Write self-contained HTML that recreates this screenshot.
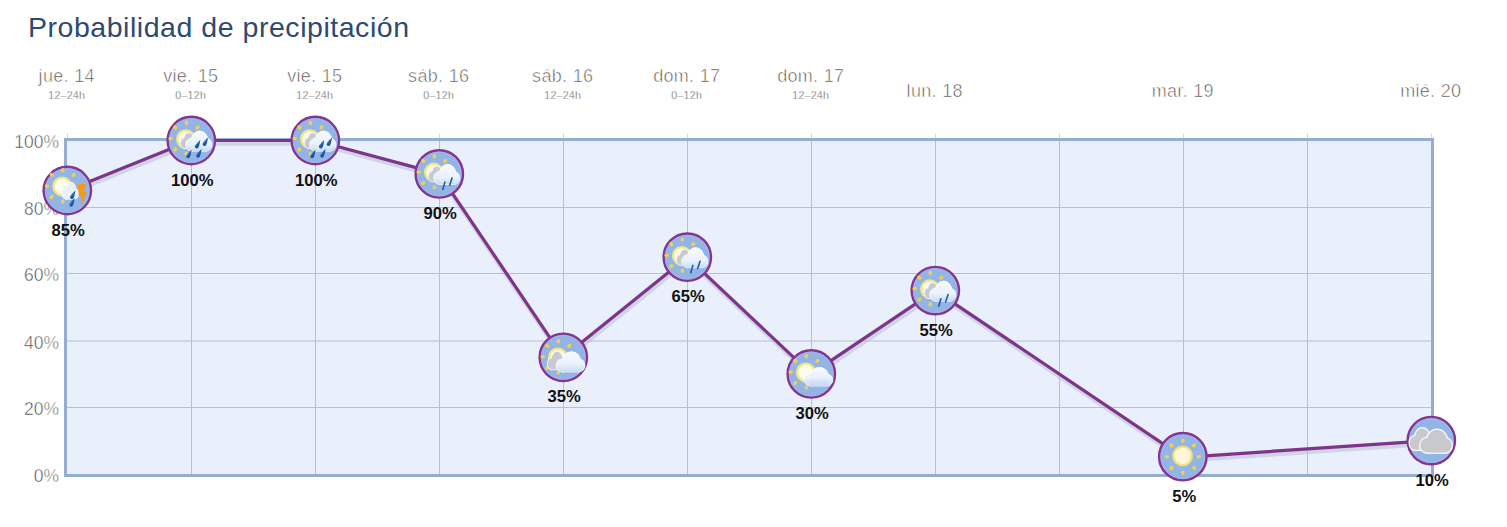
<!DOCTYPE html>
<html><head><meta charset="utf-8"><style>
html,body{margin:0;padding:0;background:#fff;width:1507px;height:527px;overflow:hidden}
svg{position:absolute;left:0;top:0;display:block}
text{font-family:"Liberation Sans",sans-serif}
</style></head><body>
<svg width="1507" height="527" viewBox="0 0 1507 527">
<defs>
<radialGradient id="sunG"><stop offset="0" stop-color="#fffef4"/><stop offset="0.55" stop-color="#fff8d2"/><stop offset="0.8" stop-color="#f8ec9a"/><stop offset="1" stop-color="#f2dc6a" stop-opacity="0.2"/></radialGradient>
<linearGradient id="wcl" gradientUnits="userSpaceOnUse" x1="0" y1="-9" x2="0" y2="12"><stop offset="0" stop-color="#f7fafe"/><stop offset="0.6" stop-color="#e9f1fb"/><stop offset="1" stop-color="#c4d7f0"/></linearGradient>
<linearGradient id="wcl2" gradientUnits="userSpaceOnUse" x1="0" y1="-5" x2="0" y2="15"><stop offset="0" stop-color="#f7fafe"/><stop offset="0.6" stop-color="#e9f1fb"/><stop offset="1" stop-color="#c8daf0"/></linearGradient>
<linearGradient id="wcl3" gradientUnits="userSpaceOnUse" x1="0" y1="-6" x2="0" y2="12"><stop offset="0" stop-color="#f4f8fe" stop-opacity="0.95"/><stop offset="0.55" stop-color="#e8f0fb" stop-opacity="0.9"/><stop offset="1" stop-color="#bcd2f0" stop-opacity="0.8"/></linearGradient>
<filter id="soft" x="-30%" y="-30%" width="160%" height="160%"><feGaussianBlur stdDeviation="0.7"/></filter>
<filter id="glow" x="-50%" y="-50%" width="200%" height="200%"><feGaussianBlur stdDeviation="1.2"/></filter>
</defs>

<text x="28" y="36.6" font-size="28.5" fill="#2d4a73" textLength="381" lengthAdjust="spacing">Probabilidad de precipitación</text>
<rect x="65.5" y="139.5" width="1367" height="336" fill="#e9effb"/>
<line x1="67.5" y1="133" x2="67.5" y2="139" stroke="#dcdde2" stroke-width="1"/>
<line x1="1431.5" y1="133" x2="1431.5" y2="139" stroke="#dcdde2" stroke-width="1"/>
<line x1="191.5" y1="139" x2="191.5" y2="476" stroke="#b8bfcd" stroke-width="1"/>
<line x1="191.5" y1="133" x2="191.5" y2="139" stroke="#dcdde2" stroke-width="1"/>
<line x1="315.5" y1="139" x2="315.5" y2="476" stroke="#b8bfcd" stroke-width="1"/>
<line x1="315.5" y1="133" x2="315.5" y2="139" stroke="#dcdde2" stroke-width="1"/>
<line x1="439.5" y1="139" x2="439.5" y2="476" stroke="#b8bfcd" stroke-width="1"/>
<line x1="439.5" y1="133" x2="439.5" y2="139" stroke="#dcdde2" stroke-width="1"/>
<line x1="563.5" y1="139" x2="563.5" y2="476" stroke="#b8bfcd" stroke-width="1"/>
<line x1="563.5" y1="133" x2="563.5" y2="139" stroke="#dcdde2" stroke-width="1"/>
<line x1="687.5" y1="139" x2="687.5" y2="476" stroke="#b8bfcd" stroke-width="1"/>
<line x1="687.5" y1="133" x2="687.5" y2="139" stroke="#dcdde2" stroke-width="1"/>
<line x1="811.5" y1="139" x2="811.5" y2="476" stroke="#b8bfcd" stroke-width="1"/>
<line x1="811.5" y1="133" x2="811.5" y2="139" stroke="#dcdde2" stroke-width="1"/>
<line x1="935.5" y1="139" x2="935.5" y2="476" stroke="#b8bfcd" stroke-width="1"/>
<line x1="935.5" y1="133" x2="935.5" y2="139" stroke="#dcdde2" stroke-width="1"/>
<line x1="1059.5" y1="139" x2="1059.5" y2="476" stroke="#b8bfcd" stroke-width="1"/>
<line x1="1059.5" y1="133" x2="1059.5" y2="139" stroke="#dcdde2" stroke-width="1"/>
<line x1="1183.5" y1="139" x2="1183.5" y2="476" stroke="#b8bfcd" stroke-width="1"/>
<line x1="1183.5" y1="133" x2="1183.5" y2="139" stroke="#dcdde2" stroke-width="1"/>
<line x1="1307.5" y1="139" x2="1307.5" y2="476" stroke="#b8bfcd" stroke-width="1"/>
<line x1="1307.5" y1="133" x2="1307.5" y2="139" stroke="#dcdde2" stroke-width="1"/>
<line x1="65" y1="207.5" x2="1433" y2="207.5" stroke="#b8bfcd" stroke-width="1"/>
<line x1="65" y1="273.5" x2="1433" y2="273.5" stroke="#b8bfcd" stroke-width="1"/>
<line x1="65" y1="341.0" x2="1433" y2="341.0" stroke="#b8bfcd" stroke-width="1"/>
<line x1="65" y1="407.5" x2="1433" y2="407.5" stroke="#b8bfcd" stroke-width="1"/>
<rect x="65.5" y="139.5" width="1367" height="336" fill="none" stroke="#94aed0" stroke-width="3"/>
<text x="59" y="482.0" font-size="17.5" fill="#444" stroke="#fff" stroke-width="0.5" text-anchor="end">0%</text>
<text x="59" y="415.0" font-size="17.5" fill="#444" stroke="#fff" stroke-width="0.5" text-anchor="end">20%</text>
<text x="59" y="348.5" font-size="17.5" fill="#444" stroke="#fff" stroke-width="0.5" text-anchor="end">40%</text>
<text x="59" y="281.0" font-size="17.5" fill="#444" stroke="#fff" stroke-width="0.5" text-anchor="end">60%</text>
<text x="59" y="215.0" font-size="17.5" fill="#444" stroke="#fff" stroke-width="0.5" text-anchor="end">80%</text>
<text x="59" y="148.0" font-size="17.5" fill="#444" stroke="#fff" stroke-width="0.5" text-anchor="end">100%</text>
<text x="66.7" y="81.6" font-size="18" fill="#4a4a4a" stroke="#fff" stroke-width="0.6" letter-spacing="0.3" text-anchor="middle">jue. 14</text>
<text x="66.7" y="98.8" font-size="10.6" fill="#505050" stroke="#fff" stroke-width="0.3" letter-spacing="0.25" text-anchor="middle">12–24h</text>
<text x="190.7" y="81.6" font-size="18" fill="#4a4a4a" stroke="#fff" stroke-width="0.6" letter-spacing="0.3" text-anchor="middle">vie. 15</text>
<text x="190.7" y="98.8" font-size="10.6" fill="#505050" stroke="#fff" stroke-width="0.3" letter-spacing="0.25" text-anchor="middle">0–12h</text>
<text x="314.7" y="81.6" font-size="18" fill="#4a4a4a" stroke="#fff" stroke-width="0.6" letter-spacing="0.3" text-anchor="middle">vie. 15</text>
<text x="314.7" y="98.8" font-size="10.6" fill="#505050" stroke="#fff" stroke-width="0.3" letter-spacing="0.25" text-anchor="middle">12–24h</text>
<text x="438.7" y="81.6" font-size="18" fill="#4a4a4a" stroke="#fff" stroke-width="0.6" letter-spacing="0.3" text-anchor="middle">sáb. 16</text>
<text x="438.7" y="98.8" font-size="10.6" fill="#505050" stroke="#fff" stroke-width="0.3" letter-spacing="0.25" text-anchor="middle">0–12h</text>
<text x="562.7" y="81.6" font-size="18" fill="#4a4a4a" stroke="#fff" stroke-width="0.6" letter-spacing="0.3" text-anchor="middle">sáb. 16</text>
<text x="562.7" y="98.8" font-size="10.6" fill="#505050" stroke="#fff" stroke-width="0.3" letter-spacing="0.25" text-anchor="middle">12–24h</text>
<text x="686.7" y="81.6" font-size="18" fill="#4a4a4a" stroke="#fff" stroke-width="0.6" letter-spacing="0.3" text-anchor="middle">dom. 17</text>
<text x="686.7" y="98.8" font-size="10.6" fill="#505050" stroke="#fff" stroke-width="0.3" letter-spacing="0.25" text-anchor="middle">0–12h</text>
<text x="810.7" y="81.6" font-size="18" fill="#4a4a4a" stroke="#fff" stroke-width="0.6" letter-spacing="0.3" text-anchor="middle">dom. 17</text>
<text x="810.7" y="98.8" font-size="10.6" fill="#505050" stroke="#fff" stroke-width="0.3" letter-spacing="0.25" text-anchor="middle">12–24h</text>
<text x="934.7" y="96.7" font-size="18" fill="#4a4a4a" stroke="#fff" stroke-width="0.6" letter-spacing="0.3" text-anchor="middle">lun. 18</text>
<text x="1182.7" y="96.7" font-size="18" fill="#4a4a4a" stroke="#fff" stroke-width="0.6" letter-spacing="0.3" text-anchor="middle">mar. 19</text>
<text x="1430.7" y="96.7" font-size="18" fill="#4a4a4a" stroke="#fff" stroke-width="0.6" letter-spacing="0.3" text-anchor="middle">mié. 20</text>
<path d="M67.2,190.5 L191.2,140.5 L315.2,140.5 L439.2,173.9 L563.2,357.3 L687.2,257.2 L811.2,373.9 L935.2,290.6 L1183.2,457.3 L1431.2,440.6" fill="none" stroke="#b4b4c8" stroke-width="4.5" opacity="0.45" transform="translate(1,3)"/>
<path d="M67.2,190.5 L191.2,140.5 L315.2,140.5 L439.2,173.9 L563.2,357.3 L687.2,257.2 L811.2,373.9 L935.2,290.6 L1183.2,457.3 L1431.2,440.6" fill="none" stroke="#7e3489" stroke-width="3.2" stroke-linejoin="round"/>
<g transform="translate(67.3,190.5)"><circle r="23.7" fill="#93b5e6" stroke="#84368f" stroke-width="2.4"/><circle r="21.8" fill="none" stroke="#aeb0f0" stroke-width="1.2" opacity="0.6"/><ellipse cx="-4.60" cy="-20.20" rx="2.3" ry="1.75" transform="rotate(-90 -4.60 -20.20)" fill="#f0d052"/><ellipse cx="6.43" cy="-15.63" rx="2.3" ry="1.75" transform="rotate(-45 6.43 -15.63)" fill="#f0d052"/><ellipse cx="-15.63" cy="-15.63" rx="2.3" ry="1.75" transform="rotate(-135 -15.63 -15.63)" fill="#f0d052"/><ellipse cx="-20.20" cy="-4.60" rx="2.3" ry="1.75" transform="rotate(180 -20.20 -4.60)" fill="#f0d052"/><ellipse cx="-15.63" cy="6.43" rx="2.3" ry="1.75" transform="rotate(135 -15.63 6.43)" fill="#f0d052"/><ellipse cx="-4.60" cy="11.00" rx="2.3" ry="1.75" transform="rotate(90 -4.60 11.00)" fill="#f0d052"/><g filter="url(#soft)"><circle cx="-5.1" cy="-4.1" r="8.8" fill="#fffbea" stroke="#f4e684" stroke-width="2.4"/></g><ellipse cx="-1.50" cy="3.25" rx="3.50" ry="5.25" fill="#ffffff" stroke="#ffffff" stroke-width="1.2"/><ellipse cx="3.50" cy="-0.50" rx="5.00" ry="7.50" fill="#ffffff" stroke="#ffffff" stroke-width="1.2"/><ellipse cx="7.50" cy="3.25" rx="3.50" ry="5.25" fill="#ffffff" stroke="#ffffff" stroke-width="1.2"/><rect x="-1.50" y="1.00" width="9.00" height="7.50" fill="#ffffff" stroke="#ffffff" stroke-width="1.2"/><ellipse cx="-1.50" cy="3.25" rx="3.50" ry="5.25" fill="#e6f2fb"/><ellipse cx="3.50" cy="-0.50" rx="5.00" ry="7.50" fill="#e6f2fb"/><ellipse cx="7.50" cy="3.25" rx="3.50" ry="5.25" fill="#e6f2fb"/><rect x="-1.50" y="1.00" width="9.00" height="7.50" fill="#e6f2fb"/><g transform="translate(4.6,6.6) rotate(28) scale(1.0)"><path d="M0,-7.5 C0.8,-4.5 1.9,-2 1.9,0 A1.9,1.9 0 0 1 -1.9,0 C-1.9,-2 -0.8,-4.5 0,-7.5 Z" fill="#1a56a0"/><path d="M-0.3,-4.5 C-0.9,-2.5 -1.2,-1 -1.0,0.3" stroke="#5fa0e0" stroke-width="0.6" fill="none" opacity="0.8"/></g><g transform="translate(4.0,14.2) rotate(28) scale(1.0)"><path d="M0,-7.5 C0.8,-4.5 1.9,-2 1.9,0 A1.9,1.9 0 0 1 -1.9,0 C-1.9,-2 -0.8,-4.5 0,-7.5 Z" fill="#1a56a0"/><path d="M-0.3,-4.5 C-0.9,-2.5 -1.2,-1 -1.0,0.3" stroke="#5fa0e0" stroke-width="0.6" fill="none" opacity="0.8"/></g><path d="M10.3,-6.4 L18.9,-6.4 L16.4,1.2 L19.4,1.2 L14.6,14.8 L14.3,5.6 L11.6,5.6 Z" fill="#f5991c"/></g>
<g transform="translate(191.3,140.5)"><circle r="23.7" fill="#93b5e6" stroke="#84368f" stroke-width="2.4"/><circle r="21.8" fill="none" stroke="#aeb0f0" stroke-width="1.2" opacity="0.6"/><ellipse cx="-5.00" cy="-17.60" rx="2.3" ry="1.75" transform="rotate(-90 -5.00 -17.60)" fill="#f0d052"/><ellipse cx="6.03" cy="-13.03" rx="2.3" ry="1.75" transform="rotate(-45 6.03 -13.03)" fill="#f0d052"/><ellipse cx="-16.03" cy="-13.03" rx="2.3" ry="1.75" transform="rotate(-135 -16.03 -13.03)" fill="#f0d052"/><ellipse cx="-20.60" cy="-2.00" rx="2.3" ry="1.75" transform="rotate(180 -20.60 -2.00)" fill="#f0d052"/><ellipse cx="-16.03" cy="9.03" rx="2.3" ry="1.75" transform="rotate(135 -16.03 9.03)" fill="#f0d052"/><ellipse cx="-5.00" cy="13.60" rx="2.3" ry="1.75" transform="rotate(90 -5.00 13.60)" fill="#f0d052"/><g filter="url(#soft)"><circle cx="-5.5" cy="-1.5" r="8.6" fill="#fffbea" stroke="#f4e684" stroke-width="2.4"/></g><ellipse cx="-7.22" cy="2.73" rx="3.28" ry="4.77" fill="#f4f6fc" stroke="#f4f6fc" stroke-width="1.6"/><ellipse cx="-2.53" cy="-0.68" rx="4.69" ry="6.82" fill="#f4f6fc" stroke="#f4f6fc" stroke-width="1.6"/><ellipse cx="1.22" cy="2.73" rx="3.28" ry="4.77" fill="#f4f6fc" stroke="#f4f6fc" stroke-width="1.6"/><rect x="-7.22" y="0.68" width="8.44" height="6.82" fill="#f4f6fc" stroke="#f4f6fc" stroke-width="1.6"/><ellipse cx="-7.22" cy="2.73" rx="3.28" ry="4.77" fill="#c9c9d3"/><ellipse cx="-2.53" cy="-0.68" rx="4.69" ry="6.82" fill="#c9c9d3"/><ellipse cx="1.22" cy="2.73" rx="3.28" ry="4.77" fill="#c9c9d3"/><rect x="-7.22" y="0.68" width="8.44" height="6.82" fill="#c9c9d3"/><ellipse cx="0.19" cy="4.14" rx="5.69" ry="6.36" fill="#ffffff" stroke="#ffffff" stroke-width="1.0"/><ellipse cx="8.31" cy="-0.41" rx="8.12" ry="9.09" fill="#ffffff" stroke="#ffffff" stroke-width="1.0"/><ellipse cx="14.81" cy="4.14" rx="5.69" ry="6.36" fill="#ffffff" stroke="#ffffff" stroke-width="1.0"/><rect x="0.19" y="1.41" width="14.62" height="9.09" fill="#ffffff" stroke="#ffffff" stroke-width="1.0"/><ellipse cx="0.19" cy="4.14" rx="5.69" ry="6.36" fill="url(#wcl)"/><ellipse cx="8.31" cy="-0.41" rx="8.12" ry="9.09" fill="url(#wcl)"/><ellipse cx="14.81" cy="4.14" rx="5.69" ry="6.36" fill="url(#wcl)"/><rect x="0.19" y="1.41" width="14.62" height="9.09" fill="url(#wcl)"/><g transform="translate(5.5,6.0) rotate(28) scale(1.0)"><path d="M0,-7.5 C0.8,-4.5 1.9,-2 1.9,0 A1.9,1.9 0 0 1 -1.9,0 C-1.9,-2 -0.8,-4.5 0,-7.5 Z" fill="#1a56a0"/><path d="M-0.3,-4.5 C-0.9,-2.5 -1.2,-1 -1.0,0.3" stroke="#5fa0e0" stroke-width="0.6" fill="none" opacity="0.8"/></g><g transform="translate(13.2,3.6) rotate(28) scale(1.0)"><path d="M0,-7.5 C0.8,-4.5 1.9,-2 1.9,0 A1.9,1.9 0 0 1 -1.9,0 C-1.9,-2 -0.8,-4.5 0,-7.5 Z" fill="#1a56a0"/><path d="M-0.3,-4.5 C-0.9,-2.5 -1.2,-1 -1.0,0.3" stroke="#5fa0e0" stroke-width="0.6" fill="none" opacity="0.8"/></g><g transform="translate(-3.2,15.8) rotate(28) scale(1.0)"><path d="M0,-7.5 C0.8,-4.5 1.9,-2 1.9,0 A1.9,1.9 0 0 1 -1.9,0 C-1.9,-2 -0.8,-4.5 0,-7.5 Z" fill="#1a56a0"/><path d="M-0.3,-4.5 C-0.9,-2.5 -1.2,-1 -1.0,0.3" stroke="#5fa0e0" stroke-width="0.6" fill="none" opacity="0.8"/></g><g transform="translate(6.8,15.2) rotate(28) scale(1.0)"><path d="M0,-7.5 C0.8,-4.5 1.9,-2 1.9,0 A1.9,1.9 0 0 1 -1.9,0 C-1.9,-2 -0.8,-4.5 0,-7.5 Z" fill="#1a56a0"/><path d="M-0.3,-4.5 C-0.9,-2.5 -1.2,-1 -1.0,0.3" stroke="#5fa0e0" stroke-width="0.6" fill="none" opacity="0.8"/></g></g>
<g transform="translate(315.3,140.5)"><circle r="23.7" fill="#93b5e6" stroke="#84368f" stroke-width="2.4"/><circle r="21.8" fill="none" stroke="#aeb0f0" stroke-width="1.2" opacity="0.6"/><ellipse cx="-5.00" cy="-17.60" rx="2.3" ry="1.75" transform="rotate(-90 -5.00 -17.60)" fill="#f0d052"/><ellipse cx="6.03" cy="-13.03" rx="2.3" ry="1.75" transform="rotate(-45 6.03 -13.03)" fill="#f0d052"/><ellipse cx="-16.03" cy="-13.03" rx="2.3" ry="1.75" transform="rotate(-135 -16.03 -13.03)" fill="#f0d052"/><ellipse cx="-20.60" cy="-2.00" rx="2.3" ry="1.75" transform="rotate(180 -20.60 -2.00)" fill="#f0d052"/><ellipse cx="-16.03" cy="9.03" rx="2.3" ry="1.75" transform="rotate(135 -16.03 9.03)" fill="#f0d052"/><ellipse cx="-5.00" cy="13.60" rx="2.3" ry="1.75" transform="rotate(90 -5.00 13.60)" fill="#f0d052"/><g filter="url(#soft)"><circle cx="-5.5" cy="-1.5" r="8.6" fill="#fffbea" stroke="#f4e684" stroke-width="2.4"/></g><ellipse cx="-7.22" cy="2.73" rx="3.28" ry="4.77" fill="#f4f6fc" stroke="#f4f6fc" stroke-width="1.6"/><ellipse cx="-2.53" cy="-0.68" rx="4.69" ry="6.82" fill="#f4f6fc" stroke="#f4f6fc" stroke-width="1.6"/><ellipse cx="1.22" cy="2.73" rx="3.28" ry="4.77" fill="#f4f6fc" stroke="#f4f6fc" stroke-width="1.6"/><rect x="-7.22" y="0.68" width="8.44" height="6.82" fill="#f4f6fc" stroke="#f4f6fc" stroke-width="1.6"/><ellipse cx="-7.22" cy="2.73" rx="3.28" ry="4.77" fill="#c9c9d3"/><ellipse cx="-2.53" cy="-0.68" rx="4.69" ry="6.82" fill="#c9c9d3"/><ellipse cx="1.22" cy="2.73" rx="3.28" ry="4.77" fill="#c9c9d3"/><rect x="-7.22" y="0.68" width="8.44" height="6.82" fill="#c9c9d3"/><ellipse cx="0.19" cy="4.14" rx="5.69" ry="6.36" fill="#ffffff" stroke="#ffffff" stroke-width="1.0"/><ellipse cx="8.31" cy="-0.41" rx="8.12" ry="9.09" fill="#ffffff" stroke="#ffffff" stroke-width="1.0"/><ellipse cx="14.81" cy="4.14" rx="5.69" ry="6.36" fill="#ffffff" stroke="#ffffff" stroke-width="1.0"/><rect x="0.19" y="1.41" width="14.62" height="9.09" fill="#ffffff" stroke="#ffffff" stroke-width="1.0"/><ellipse cx="0.19" cy="4.14" rx="5.69" ry="6.36" fill="url(#wcl)"/><ellipse cx="8.31" cy="-0.41" rx="8.12" ry="9.09" fill="url(#wcl)"/><ellipse cx="14.81" cy="4.14" rx="5.69" ry="6.36" fill="url(#wcl)"/><rect x="0.19" y="1.41" width="14.62" height="9.09" fill="url(#wcl)"/><g transform="translate(5.5,6.0) rotate(28) scale(1.0)"><path d="M0,-7.5 C0.8,-4.5 1.9,-2 1.9,0 A1.9,1.9 0 0 1 -1.9,0 C-1.9,-2 -0.8,-4.5 0,-7.5 Z" fill="#1a56a0"/><path d="M-0.3,-4.5 C-0.9,-2.5 -1.2,-1 -1.0,0.3" stroke="#5fa0e0" stroke-width="0.6" fill="none" opacity="0.8"/></g><g transform="translate(13.2,3.6) rotate(28) scale(1.0)"><path d="M0,-7.5 C0.8,-4.5 1.9,-2 1.9,0 A1.9,1.9 0 0 1 -1.9,0 C-1.9,-2 -0.8,-4.5 0,-7.5 Z" fill="#1a56a0"/><path d="M-0.3,-4.5 C-0.9,-2.5 -1.2,-1 -1.0,0.3" stroke="#5fa0e0" stroke-width="0.6" fill="none" opacity="0.8"/></g><g transform="translate(-3.2,15.8) rotate(28) scale(1.0)"><path d="M0,-7.5 C0.8,-4.5 1.9,-2 1.9,0 A1.9,1.9 0 0 1 -1.9,0 C-1.9,-2 -0.8,-4.5 0,-7.5 Z" fill="#1a56a0"/><path d="M-0.3,-4.5 C-0.9,-2.5 -1.2,-1 -1.0,0.3" stroke="#5fa0e0" stroke-width="0.6" fill="none" opacity="0.8"/></g><g transform="translate(6.8,15.2) rotate(28) scale(1.0)"><path d="M0,-7.5 C0.8,-4.5 1.9,-2 1.9,0 A1.9,1.9 0 0 1 -1.9,0 C-1.9,-2 -0.8,-4.5 0,-7.5 Z" fill="#1a56a0"/><path d="M-0.3,-4.5 C-0.9,-2.5 -1.2,-1 -1.0,0.3" stroke="#5fa0e0" stroke-width="0.6" fill="none" opacity="0.8"/></g></g>
<g transform="translate(439.3,173.9)"><circle r="23.7" fill="#93b5e6" stroke="#84368f" stroke-width="2.4"/><circle r="21.8" fill="none" stroke="#aeb0f0" stroke-width="1.2" opacity="0.6"/><ellipse cx="-5.00" cy="-17.60" rx="2.3" ry="1.75" transform="rotate(-90 -5.00 -17.60)" fill="#f0d052"/><ellipse cx="6.03" cy="-13.03" rx="2.3" ry="1.75" transform="rotate(-45 6.03 -13.03)" fill="#f0d052"/><ellipse cx="-16.03" cy="-13.03" rx="2.3" ry="1.75" transform="rotate(-135 -16.03 -13.03)" fill="#f0d052"/><ellipse cx="-20.60" cy="-2.00" rx="2.3" ry="1.75" transform="rotate(180 -20.60 -2.00)" fill="#f0d052"/><ellipse cx="-16.03" cy="9.03" rx="2.3" ry="1.75" transform="rotate(135 -16.03 9.03)" fill="#f0d052"/><ellipse cx="-5.00" cy="13.60" rx="2.3" ry="1.75" transform="rotate(90 -5.00 13.60)" fill="#f0d052"/><g filter="url(#soft)"><circle cx="-5.5" cy="-1.5" r="8.6" fill="#fffbea" stroke="#f4e684" stroke-width="2.4"/></g><ellipse cx="-7.22" cy="2.73" rx="3.28" ry="4.77" fill="#f4f6fc" stroke="#f4f6fc" stroke-width="1.6"/><ellipse cx="-2.53" cy="-0.68" rx="4.69" ry="6.82" fill="#f4f6fc" stroke="#f4f6fc" stroke-width="1.6"/><ellipse cx="1.22" cy="2.73" rx="3.28" ry="4.77" fill="#f4f6fc" stroke="#f4f6fc" stroke-width="1.6"/><rect x="-7.22" y="0.68" width="8.44" height="6.82" fill="#f4f6fc" stroke="#f4f6fc" stroke-width="1.6"/><ellipse cx="-7.22" cy="2.73" rx="3.28" ry="4.77" fill="#c9c9d3"/><ellipse cx="-2.53" cy="-0.68" rx="4.69" ry="6.82" fill="#c9c9d3"/><ellipse cx="1.22" cy="2.73" rx="3.28" ry="4.77" fill="#c9c9d3"/><rect x="-7.22" y="0.68" width="8.44" height="6.82" fill="#c9c9d3"/><ellipse cx="0.19" cy="4.14" rx="5.69" ry="6.36" fill="#ffffff" stroke="#ffffff" stroke-width="1.0"/><ellipse cx="8.31" cy="-0.41" rx="8.12" ry="9.09" fill="#ffffff" stroke="#ffffff" stroke-width="1.0"/><ellipse cx="14.81" cy="4.14" rx="5.69" ry="6.36" fill="#ffffff" stroke="#ffffff" stroke-width="1.0"/><rect x="0.19" y="1.41" width="14.62" height="9.09" fill="#ffffff" stroke="#ffffff" stroke-width="1.0"/><ellipse cx="0.19" cy="4.14" rx="5.69" ry="6.36" fill="url(#wcl)"/><ellipse cx="8.31" cy="-0.41" rx="8.12" ry="9.09" fill="url(#wcl)"/><ellipse cx="14.81" cy="4.14" rx="5.69" ry="6.36" fill="url(#wcl)"/><rect x="0.19" y="1.41" width="14.62" height="9.09" fill="url(#wcl)"/><path d="M3.5,15.6 L5.6,8.2 M10.3,11.3 L12.8,4" stroke="#1e5ca6" stroke-width="1.6" stroke-linecap="round"/></g>
<g transform="translate(563.3,357.3)"><circle r="23.7" fill="#93b5e6" stroke="#84368f" stroke-width="2.4"/><circle r="21.8" fill="none" stroke="#aeb0f0" stroke-width="1.2" opacity="0.6"/><ellipse cx="-5.00" cy="-16.10" rx="2.3" ry="1.75" transform="rotate(-90 -5.00 -16.10)" fill="#f0d052"/><ellipse cx="6.03" cy="-11.53" rx="2.3" ry="1.75" transform="rotate(-45 6.03 -11.53)" fill="#f0d052"/><ellipse cx="-16.03" cy="-11.53" rx="2.3" ry="1.75" transform="rotate(-135 -16.03 -11.53)" fill="#f0d052"/><ellipse cx="-20.60" cy="-0.50" rx="2.3" ry="1.75" transform="rotate(180 -20.60 -0.50)" fill="#f0d052"/><ellipse cx="-16.03" cy="10.53" rx="2.3" ry="1.75" transform="rotate(135 -16.03 10.53)" fill="#f0d052"/><ellipse cx="-5.00" cy="15.10" rx="2.3" ry="1.75" transform="rotate(90 -5.00 15.10)" fill="#f0d052"/><g filter="url(#soft)"><circle cx="-5.5" cy="0.0" r="8.6" fill="#fffbea" stroke="#f4e684" stroke-width="2.4"/></g><ellipse cx="-11.67" cy="6.43" rx="3.83" ry="5.57" fill="#f4f6fc" stroke="#f4f6fc" stroke-width="1.8"/><ellipse cx="-6.20" cy="2.45" rx="5.47" ry="7.95" fill="#f4f6fc" stroke="#f4f6fc" stroke-width="1.8"/><ellipse cx="-1.83" cy="6.43" rx="3.83" ry="5.57" fill="#f4f6fc" stroke="#f4f6fc" stroke-width="1.8"/><rect x="-11.67" y="4.05" width="9.84" height="7.95" fill="#f4f6fc" stroke="#f4f6fc" stroke-width="1.8"/><ellipse cx="-11.67" cy="6.43" rx="3.83" ry="5.57" fill="#c9c9d3"/><ellipse cx="-6.20" cy="2.45" rx="5.47" ry="7.95" fill="#c9c9d3"/><ellipse cx="-1.83" cy="6.43" rx="3.83" ry="5.57" fill="#c9c9d3"/><rect x="-11.67" y="4.05" width="9.84" height="7.95" fill="#c9c9d3"/><ellipse cx="-0.77" cy="8.14" rx="6.23" ry="6.36" fill="#f8fbff" stroke="#f8fbff" stroke-width="1.2"/><ellipse cx="8.14" cy="3.59" rx="8.91" ry="9.09" fill="#f8fbff" stroke="#f8fbff" stroke-width="1.2"/><ellipse cx="15.27" cy="8.14" rx="6.23" ry="6.36" fill="#f8fbff" stroke="#f8fbff" stroke-width="1.2"/><rect x="-0.77" y="5.41" width="16.03" height="9.09" fill="#f8fbff" stroke="#f8fbff" stroke-width="1.2"/><ellipse cx="-0.77" cy="8.14" rx="6.23" ry="6.36" fill="url(#wcl2)"/><ellipse cx="8.14" cy="3.59" rx="8.91" ry="9.09" fill="url(#wcl2)"/><ellipse cx="15.27" cy="8.14" rx="6.23" ry="6.36" fill="url(#wcl2)"/><rect x="-0.77" y="5.41" width="16.03" height="9.09" fill="url(#wcl2)"/></g>
<g transform="translate(687.3,257.2)"><circle r="23.7" fill="#93b5e6" stroke="#84368f" stroke-width="2.4"/><circle r="21.8" fill="none" stroke="#aeb0f0" stroke-width="1.2" opacity="0.6"/><ellipse cx="-5.00" cy="-17.60" rx="2.3" ry="1.75" transform="rotate(-90 -5.00 -17.60)" fill="#f0d052"/><ellipse cx="6.03" cy="-13.03" rx="2.3" ry="1.75" transform="rotate(-45 6.03 -13.03)" fill="#f0d052"/><ellipse cx="-16.03" cy="-13.03" rx="2.3" ry="1.75" transform="rotate(-135 -16.03 -13.03)" fill="#f0d052"/><ellipse cx="-20.60" cy="-2.00" rx="2.3" ry="1.75" transform="rotate(180 -20.60 -2.00)" fill="#f0d052"/><ellipse cx="-16.03" cy="9.03" rx="2.3" ry="1.75" transform="rotate(135 -16.03 9.03)" fill="#f0d052"/><ellipse cx="-5.00" cy="13.60" rx="2.3" ry="1.75" transform="rotate(90 -5.00 13.60)" fill="#f0d052"/><g filter="url(#soft)"><circle cx="-5.5" cy="-1.5" r="8.6" fill="#fffbea" stroke="#f4e684" stroke-width="2.4"/></g><ellipse cx="-7.22" cy="2.73" rx="3.28" ry="4.77" fill="#f4f6fc" stroke="#f4f6fc" stroke-width="1.6"/><ellipse cx="-2.53" cy="-0.68" rx="4.69" ry="6.82" fill="#f4f6fc" stroke="#f4f6fc" stroke-width="1.6"/><ellipse cx="1.22" cy="2.73" rx="3.28" ry="4.77" fill="#f4f6fc" stroke="#f4f6fc" stroke-width="1.6"/><rect x="-7.22" y="0.68" width="8.44" height="6.82" fill="#f4f6fc" stroke="#f4f6fc" stroke-width="1.6"/><ellipse cx="-7.22" cy="2.73" rx="3.28" ry="4.77" fill="#c9c9d3"/><ellipse cx="-2.53" cy="-0.68" rx="4.69" ry="6.82" fill="#c9c9d3"/><ellipse cx="1.22" cy="2.73" rx="3.28" ry="4.77" fill="#c9c9d3"/><rect x="-7.22" y="0.68" width="8.44" height="6.82" fill="#c9c9d3"/><ellipse cx="0.19" cy="4.14" rx="5.69" ry="6.36" fill="#ffffff" stroke="#ffffff" stroke-width="1.0"/><ellipse cx="8.31" cy="-0.41" rx="8.12" ry="9.09" fill="#ffffff" stroke="#ffffff" stroke-width="1.0"/><ellipse cx="14.81" cy="4.14" rx="5.69" ry="6.36" fill="#ffffff" stroke="#ffffff" stroke-width="1.0"/><rect x="0.19" y="1.41" width="14.62" height="9.09" fill="#ffffff" stroke="#ffffff" stroke-width="1.0"/><ellipse cx="0.19" cy="4.14" rx="5.69" ry="6.36" fill="url(#wcl)"/><ellipse cx="8.31" cy="-0.41" rx="8.12" ry="9.09" fill="url(#wcl)"/><ellipse cx="14.81" cy="4.14" rx="5.69" ry="6.36" fill="url(#wcl)"/><rect x="0.19" y="1.41" width="14.62" height="9.09" fill="url(#wcl)"/><path d="M3.5,15.6 L5.6,8.2 M10.3,11.3 L12.8,4" stroke="#1e5ca6" stroke-width="1.6" stroke-linecap="round"/></g>
<g transform="translate(811.3,373.9)"><circle r="23.7" fill="#93b5e6" stroke="#84368f" stroke-width="2.4"/><circle r="21.8" fill="none" stroke="#aeb0f0" stroke-width="1.2" opacity="0.6"/><ellipse cx="-5.00" cy="-17.60" rx="2.3" ry="1.75" transform="rotate(-90 -5.00 -17.60)" fill="#f0d052"/><ellipse cx="6.03" cy="-13.03" rx="2.3" ry="1.75" transform="rotate(-45 6.03 -13.03)" fill="#f0d052"/><ellipse cx="-16.03" cy="-13.03" rx="2.3" ry="1.75" transform="rotate(-135 -16.03 -13.03)" fill="#f0d052"/><ellipse cx="-20.60" cy="-2.00" rx="2.3" ry="1.75" transform="rotate(180 -20.60 -2.00)" fill="#f0d052"/><ellipse cx="-16.03" cy="9.03" rx="2.3" ry="1.75" transform="rotate(135 -16.03 9.03)" fill="#f0d052"/><ellipse cx="-5.00" cy="13.60" rx="2.3" ry="1.75" transform="rotate(90 -5.00 13.60)" fill="#f0d052"/><g filter="url(#soft)"><circle cx="-5.5" cy="-1.5" r="8.8" fill="#fffbea" stroke="#f4e684" stroke-width="2.4"/></g><ellipse cx="-0.77" cy="6.11" rx="6.23" ry="5.89" fill="#ffffff" stroke="#ffffff" stroke-width="1.0"/><ellipse cx="8.14" cy="1.91" rx="8.91" ry="8.41" fill="#ffffff" stroke="#ffffff" stroke-width="1.0"/><ellipse cx="15.27" cy="6.11" rx="6.23" ry="5.89" fill="#ffffff" stroke="#ffffff" stroke-width="1.0"/><rect x="-0.77" y="3.59" width="16.03" height="8.41" fill="#ffffff" stroke="#ffffff" stroke-width="1.0"/><ellipse cx="-0.77" cy="6.11" rx="6.23" ry="5.89" fill="url(#wcl3)"/><ellipse cx="8.14" cy="1.91" rx="8.91" ry="8.41" fill="url(#wcl3)"/><ellipse cx="15.27" cy="6.11" rx="6.23" ry="5.89" fill="url(#wcl3)"/><rect x="-0.77" y="3.59" width="16.03" height="8.41" fill="url(#wcl3)"/></g>
<g transform="translate(935.3,290.6)"><circle r="23.7" fill="#93b5e6" stroke="#84368f" stroke-width="2.4"/><circle r="21.8" fill="none" stroke="#aeb0f0" stroke-width="1.2" opacity="0.6"/><ellipse cx="-5.00" cy="-17.60" rx="2.3" ry="1.75" transform="rotate(-90 -5.00 -17.60)" fill="#f0d052"/><ellipse cx="6.03" cy="-13.03" rx="2.3" ry="1.75" transform="rotate(-45 6.03 -13.03)" fill="#f0d052"/><ellipse cx="-16.03" cy="-13.03" rx="2.3" ry="1.75" transform="rotate(-135 -16.03 -13.03)" fill="#f0d052"/><ellipse cx="-20.60" cy="-2.00" rx="2.3" ry="1.75" transform="rotate(180 -20.60 -2.00)" fill="#f0d052"/><ellipse cx="-16.03" cy="9.03" rx="2.3" ry="1.75" transform="rotate(135 -16.03 9.03)" fill="#f0d052"/><ellipse cx="-5.00" cy="13.60" rx="2.3" ry="1.75" transform="rotate(90 -5.00 13.60)" fill="#f0d052"/><g filter="url(#soft)"><circle cx="-5.5" cy="-1.5" r="8.6" fill="#fffbea" stroke="#f4e684" stroke-width="2.4"/></g><ellipse cx="-7.22" cy="2.73" rx="3.28" ry="4.77" fill="#f4f6fc" stroke="#f4f6fc" stroke-width="1.6"/><ellipse cx="-2.53" cy="-0.68" rx="4.69" ry="6.82" fill="#f4f6fc" stroke="#f4f6fc" stroke-width="1.6"/><ellipse cx="1.22" cy="2.73" rx="3.28" ry="4.77" fill="#f4f6fc" stroke="#f4f6fc" stroke-width="1.6"/><rect x="-7.22" y="0.68" width="8.44" height="6.82" fill="#f4f6fc" stroke="#f4f6fc" stroke-width="1.6"/><ellipse cx="-7.22" cy="2.73" rx="3.28" ry="4.77" fill="#c9c9d3"/><ellipse cx="-2.53" cy="-0.68" rx="4.69" ry="6.82" fill="#c9c9d3"/><ellipse cx="1.22" cy="2.73" rx="3.28" ry="4.77" fill="#c9c9d3"/><rect x="-7.22" y="0.68" width="8.44" height="6.82" fill="#c9c9d3"/><ellipse cx="0.19" cy="4.14" rx="5.69" ry="6.36" fill="#ffffff" stroke="#ffffff" stroke-width="1.0"/><ellipse cx="8.31" cy="-0.41" rx="8.12" ry="9.09" fill="#ffffff" stroke="#ffffff" stroke-width="1.0"/><ellipse cx="14.81" cy="4.14" rx="5.69" ry="6.36" fill="#ffffff" stroke="#ffffff" stroke-width="1.0"/><rect x="0.19" y="1.41" width="14.62" height="9.09" fill="#ffffff" stroke="#ffffff" stroke-width="1.0"/><ellipse cx="0.19" cy="4.14" rx="5.69" ry="6.36" fill="url(#wcl)"/><ellipse cx="8.31" cy="-0.41" rx="8.12" ry="9.09" fill="url(#wcl)"/><ellipse cx="14.81" cy="4.14" rx="5.69" ry="6.36" fill="url(#wcl)"/><rect x="0.19" y="1.41" width="14.62" height="9.09" fill="url(#wcl)"/><path d="M3.5,15.6 L5.6,8.2 M10.3,11.3 L12.8,4" stroke="#1e5ca6" stroke-width="1.6" stroke-linecap="round"/></g>
<g transform="translate(1182.8,456.7)"><circle r="23.7" fill="#93b5e6" stroke="#84368f" stroke-width="2.4"/><circle r="21.8" fill="none" stroke="#aeb0f0" stroke-width="1.2" opacity="0.6"/><ellipse cx="0.00" cy="-16.00" rx="2.3" ry="1.75" transform="rotate(-90 0.00 -16.00)" fill="#f0d052"/><ellipse cx="11.31" cy="-11.31" rx="2.3" ry="1.75" transform="rotate(-45 11.31 -11.31)" fill="#f0d052"/><ellipse cx="16.00" cy="0.00" rx="2.3" ry="1.75" transform="rotate(0 16.00 0.00)" fill="#f0d052"/><ellipse cx="11.31" cy="11.31" rx="2.3" ry="1.75" transform="rotate(45 11.31 11.31)" fill="#f0d052"/><ellipse cx="0.00" cy="16.00" rx="2.3" ry="1.75" transform="rotate(90 0.00 16.00)" fill="#f0d052"/><ellipse cx="-11.31" cy="11.31" rx="2.3" ry="1.75" transform="rotate(135 -11.31 11.31)" fill="#f0d052"/><ellipse cx="-16.00" cy="0.00" rx="2.3" ry="1.75" transform="rotate(180 -16.00 0.00)" fill="#f0d052"/><ellipse cx="-11.31" cy="-11.31" rx="2.3" ry="1.75" transform="rotate(225 -11.31 -11.31)" fill="#f0d052"/><g filter="url(#soft)"><circle cx="-0.2" cy="-0.8" r="9.3" fill="#fff5d8" stroke="#f3e172" stroke-width="2.2"/></g></g>
<g transform="translate(1431.3,440.6)"><circle r="23.7" fill="#93b5e6" stroke="#84368f" stroke-width="2.4"/><circle r="21.8" fill="none" stroke="#aeb0f0" stroke-width="1.2" opacity="0.6"/><ellipse cx="-16.36" cy="2.36" rx="5.14" ry="6.84" fill="#f6f9ff" stroke="#f6f9ff" stroke-width="2.6"/><ellipse cx="-9.02" cy="-2.53" rx="7.34" ry="9.77" fill="#f6f9ff" stroke="#f6f9ff" stroke-width="2.6"/><ellipse cx="-3.14" cy="2.36" rx="5.14" ry="6.84" fill="#f6f9ff" stroke="#f6f9ff" stroke-width="2.6"/><rect x="-16.36" y="-0.57" width="13.22" height="9.77" fill="#f6f9ff" stroke="#f6f9ff" stroke-width="2.6"/><ellipse cx="-16.36" cy="2.36" rx="5.14" ry="6.84" fill="#c9c9cb"/><ellipse cx="-9.02" cy="-2.53" rx="7.34" ry="9.77" fill="#c9c9cb"/><ellipse cx="-3.14" cy="2.36" rx="5.14" ry="6.84" fill="#c9c9cb"/><rect x="-16.36" y="-0.57" width="13.22" height="9.77" fill="#c9c9cb"/><ellipse cx="-4.11" cy="4.75" rx="6.89" ry="7.25" fill="#f6f9ff" stroke="#f6f9ff" stroke-width="2.6"/><ellipse cx="5.73" cy="-0.44" rx="9.84" ry="10.36" fill="#f6f9ff" stroke="#f6f9ff" stroke-width="2.6"/><ellipse cx="13.61" cy="4.75" rx="6.89" ry="7.25" fill="#f6f9ff" stroke="#f6f9ff" stroke-width="2.6"/><rect x="-4.11" y="1.64" width="17.72" height="10.36" fill="#f6f9ff" stroke="#f6f9ff" stroke-width="2.6"/><ellipse cx="-4.11" cy="4.75" rx="6.89" ry="7.25" fill="#c9c9cb"/><ellipse cx="5.73" cy="-0.44" rx="9.84" ry="10.36" fill="#c9c9cb"/><ellipse cx="13.61" cy="4.75" rx="6.89" ry="7.25" fill="#c9c9cb"/><rect x="-4.11" y="1.64" width="17.72" height="10.36" fill="#c9c9cb"/></g>
<text x="68.2" y="235.5" font-size="16.6" font-weight="bold" fill="#111" text-anchor="middle">85%</text>
<text x="192.2" y="185.5" font-size="16.6" font-weight="bold" fill="#111" text-anchor="middle">100%</text>
<text x="316.2" y="185.5" font-size="16.6" font-weight="bold" fill="#111" text-anchor="middle">100%</text>
<text x="440.2" y="218.9" font-size="16.6" font-weight="bold" fill="#111" text-anchor="middle">90%</text>
<text x="564.2" y="402.3" font-size="16.6" font-weight="bold" fill="#111" text-anchor="middle">35%</text>
<text x="688.2" y="302.2" font-size="16.6" font-weight="bold" fill="#111" text-anchor="middle">65%</text>
<text x="812.2" y="418.9" font-size="16.6" font-weight="bold" fill="#111" text-anchor="middle">30%</text>
<text x="936.2" y="335.6" font-size="16.6" font-weight="bold" fill="#111" text-anchor="middle">55%</text>
<text x="1184.2" y="502.3" font-size="16.6" font-weight="bold" fill="#111" text-anchor="middle">5%</text>
<text x="1432.2" y="485.6" font-size="16.6" font-weight="bold" fill="#111" text-anchor="middle">10%</text>
</svg></body></html>
